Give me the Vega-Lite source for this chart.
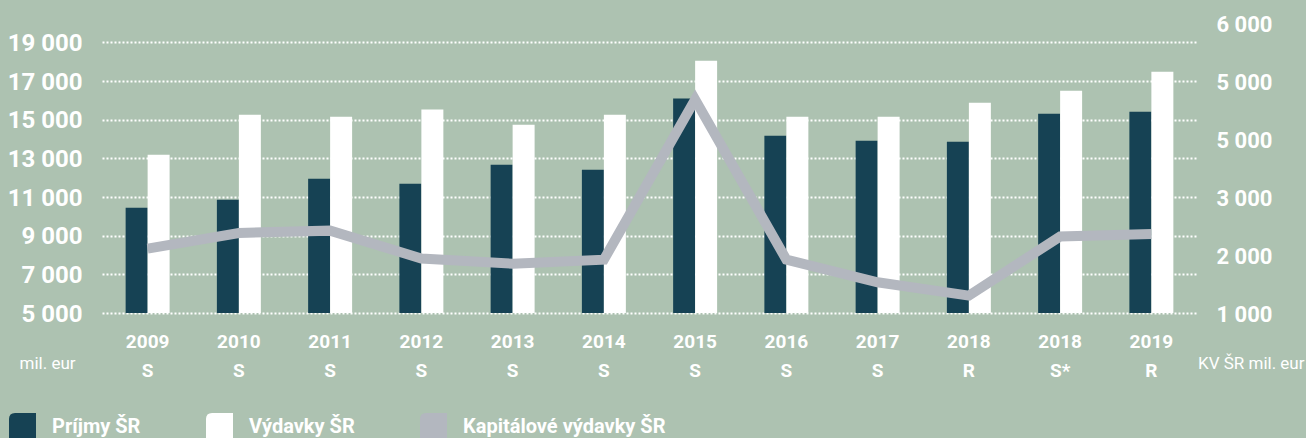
{
  "$schema": "https://vega.github.io/schema/vega-lite/v6.json",
  "width": 1095,
  "height": 290,
  "autosize": {"type": "none"},
  "padding": {"left": 102, "top": 23, "right": 109, "bottom": 125},
  "background": "#adc2b1",
  "datasets": {
    "rozpocet": [
      {"obdobie": "2009 S", "seria": "Príjmy ŠR", "hodnota": 10450},
      {"obdobie": "2009 S", "seria": "Výdavky ŠR", "hodnota": 13190},
      {"obdobie": "2010 S", "seria": "Príjmy ŠR", "hodnota": 10860},
      {"obdobie": "2010 S", "seria": "Výdavky ŠR", "hodnota": 15250},
      {"obdobie": "2011 S", "seria": "Príjmy ŠR", "hodnota": 11950},
      {"obdobie": "2011 S", "seria": "Výdavky ŠR", "hodnota": 15150},
      {"obdobie": "2012 S", "seria": "Príjmy ŠR", "hodnota": 11690},
      {"obdobie": "2012 S", "seria": "Výdavky ŠR", "hodnota": 15520},
      {"obdobie": "2013 S", "seria": "Príjmy ŠR", "hodnota": 12670},
      {"obdobie": "2013 S", "seria": "Výdavky ŠR", "hodnota": 14740},
      {"obdobie": "2014 S", "seria": "Príjmy ŠR", "hodnota": 12410},
      {"obdobie": "2014 S", "seria": "Výdavky ŠR", "hodnota": 15260},
      {"obdobie": "2015 S", "seria": "Príjmy ŠR", "hodnota": 16090},
      {"obdobie": "2015 S", "seria": "Výdavky ŠR", "hodnota": 18050},
      {"obdobie": "2016 S", "seria": "Príjmy ŠR", "hodnota": 14170},
      {"obdobie": "2016 S", "seria": "Výdavky ŠR", "hodnota": 15150},
      {"obdobie": "2017 S", "seria": "Príjmy ŠR", "hodnota": 13910},
      {"obdobie": "2017 S", "seria": "Výdavky ŠR", "hodnota": 15150},
      {"obdobie": "2018 R", "seria": "Príjmy ŠR", "hodnota": 13860},
      {"obdobie": "2018 R", "seria": "Výdavky ŠR", "hodnota": 15880},
      {"obdobie": "2018 S*", "seria": "Príjmy ŠR", "hodnota": 15310},
      {"obdobie": "2018 S*", "seria": "Výdavky ŠR", "hodnota": 16500},
      {"obdobie": "2019 R", "seria": "Príjmy ŠR", "hodnota": 15410},
      {"obdobie": "2019 R", "seria": "Výdavky ŠR", "hodnota": 17480}
    ],
    "kapital": [
      {"obdobie": "2009 S", "hodnota": 2110},
      {"obdobie": "2010 S", "hodnota": 2380},
      {"obdobie": "2011 S", "hodnota": 2420},
      {"obdobie": "2012 S", "hodnota": 1940},
      {"obdobie": "2013 S", "hodnota": 1850},
      {"obdobie": "2014 S", "hodnota": 1920},
      {"obdobie": "2015 S", "hodnota": 4680},
      {"obdobie": "2016 S", "hodnota": 1920},
      {"obdobie": "2017 S", "hodnota": 1530},
      {"obdobie": "2018 R", "hodnota": 1300},
      {"obdobie": "2018 S*", "hodnota": 2320},
      {"obdobie": "2019 R", "hodnota": 2360}
    ]
  },
  "layer": [
    {
      "data": {"name": "rozpocet"},
      "mark": {"type": "bar"},
      "encoding": {
        "x": {
          "field": "obdobie",
          "type": "nominal",
          "scale": {
            "domain": ["2009 S", "2010 S", "2011 S", "2012 S", "2013 S", "2014 S", "2015 S", "2016 S", "2017 S", "2018 R", "2018 S*", "2019 R"],
            "paddingInner": 0.518,
            "paddingOuter": 0.259
          },
          "axis": {
            "title": null,
            "labelAngle": 0,
            "labelExpr": "split(datum.value, ' ')",
            "labelFont": "Roboto",
            "labelFontWeight": "bold",
            "labelFontSize": 19,
            "labelColor": "#ffffff",
            "labelLineHeight": 29,
            "labelBaseline": "top",
            "labelPadding": 19,
            "domain": false,
            "ticks": false,
            "grid": false
          }
        },
        "xOffset": {
          "field": "seria",
          "type": "nominal",
          "scale": {"domain": ["Príjmy ŠR", "Výdavky ŠR"], "paddingInner": 0, "paddingOuter": 0}
        },
        "y": {
          "field": "hodnota",
          "type": "quantitative",
          "scale": {"domain": [5000, 20000], "zero": false, "nice": false},
          "axis": {
            "orient": "left",
            "values": [5000, 7000, 9000, 11000, 13000, 15000, 17000, 19000],
            "labelExpr": "replace(format(datum.value, ','), ',', ' ')",
            "labelFont": "Roboto",
            "labelFontWeight": "bold",
            "labelFontSize": 24,
            "labelColor": "#ffffff",
            "labelPadding": 20,
            "labelOffset": 1,
            "domain": false,
            "ticks": false,
            "grid": true,
            "gridColor": "#ffffff",
            "gridDash": [2, 2],
            "gridWidth": 2,
            "gridOpacity": 1,
            "title": "mil. eur",
            "titleAngle": 0,
            "titleX": -83,
            "titleY": 340,
            "titleAlign": "left",
            "titleBaseline": "middle",
            "titleFont": "Roboto",
            "titleFontWeight": "normal",
            "titleFontSize": 17,
            "titleColor": "#ffffff"
          }
        },
        "y2": {"datum": 5000},
        "color": {
          "field": "seria",
          "type": "nominal",
          "scale": {
            "domain": ["Príjmy ŠR", "Výdavky ŠR", "Kapitálové výdavky ŠR"],
            "range": ["#164254", "#ffffff", "#b3b7bf"]
          },
          "legend": {
            "orient": "none",
            "legendX": -93,
            "legendY": 390,
            "direction": "horizontal",
            "title": null,
            "padding": 0,
            "symbolType": "M-1,-0.55 Q-1,-1 -0.55,-1 L1,-1 L1,1 L-1,1 Z",
            "symbolSize": 729,
            "symbolStrokeWidth": 0,
            "symbolOpacity": 1,
            "labelFont": "Roboto",
            "labelFontWeight": "bold",
            "labelFontSize": 20,
            "labelColor": "#ffffff",
            "labelOffset": 16,
            "columnPadding": 65,
            "labelLimit": 400
          }
        }
      }
    },
    {
      "data": {"name": "kapital"},
      "mark": {"type": "line", "color": "#b3b7bf", "strokeWidth": 10, "strokeJoin": "miter", "strokeCap": "butt"},
      "encoding": {
        "x": {"field": "obdobie", "type": "nominal", "bandPosition": 0.5},
        "y": {
          "field": "hodnota",
          "type": "quantitative",
          "scale": {"domain": [1000, 6000], "zero": false, "nice": false},
          "axis": {
            "orient": "right",
            "values": [1000, 2000, 3000, 4000, 5000, 6000],
            "labelExpr": "datum.value == 4000 ? '5 000' : replace(format(datum.value, ','), ',', ' ')",
            "labelFont": "Roboto",
            "labelFontWeight": "bold",
            "labelFontSize": 22,
            "labelColor": "#ffffff",
            "labelPadding": 19,
            "labelOffset": 1,
            "domain": false,
            "ticks": false,
            "grid": false,
            "title": "KV ŠR mil. eur",
            "titleAngle": 0,
            "titleX": 107,
            "titleY": 340,
            "titleAlign": "right",
            "titleBaseline": "middle",
            "titleFont": "Roboto",
            "titleFontWeight": "normal",
            "titleFontSize": 17,
            "titleColor": "#ffffff"
          }
        }
      }
    }
  ],
  "resolve": {"scale": {"y": "independent"}},
  "config": {"view": {"stroke": null}}
}
